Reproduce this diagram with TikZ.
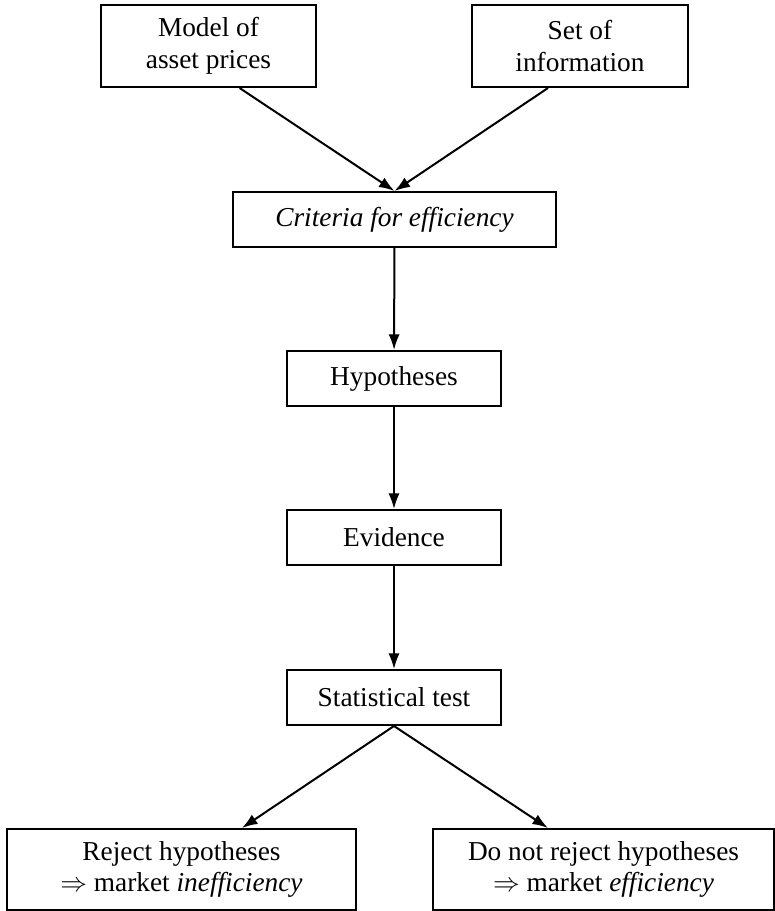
\documentclass[tikz,border=0pt]{standalone}
\usepackage{fontspec}
\setmainfont{Liberation Serif}
\usetikzlibrary{arrows.meta}
\tikzset{
	box/.style={draw, line width=0.9pt, align=center, inner sep=2pt,
			minimum width=#1, minimum height=24.75pt,
			font=\fontsize{12.3pt}{14.2pt}\selectfont},
	tall/.style={minimum height=#1},
	flow/.style={line width=0.9pt, -{Latex[length=7pt,width=5pt]}}
}

\begin{document}
\begin{tikzpicture}[x=0.45pt,y=-0.45pt]
	\useasboundingbox (0,0) rectangle (775,911);
	\node [box=96.75pt, tall=36.9pt] (model) at (208.5,46) {Model of\\asset prices};
	\node [box=97.2pt, tall=36.9pt] (info) at (580,46) {Set of\\information};
	\node [box=145.35pt] (crit) at (394.5,219.5) {\itshape Criteria for efficiency};
	\node [box=96.3pt] (hyp) at (394,378.5) {Hypotheses};
	\node [box=96.3pt] (evid) at (394,537.5) {Evidence};
	\node [box=96.3pt] (stat) at (394,697.5) {Statistical test};
	\node [box=157pt, tall=36.45pt] (reject) at (181.5,869.5)
	{Reject hypotheses\\$\Rightarrow$ market \textit{inefficiency}};
	\node [box=153.5pt, tall=36.45pt] (accept) at (603.5,869.5)
	{Do not reject hypotheses\\$\Rightarrow$ market \textit{efficiency}};
	\draw [flow] ([xshift=14pt]model.south) -- (crit.north);
	\draw [flow] ([xshift=-14.4pt]info.south) -- (crit.north);
	\draw [flow] (crit) -- (hyp);
	\draw [flow] (hyp) -- (evid);
	\draw [flow] (evid) -- (stat);
	\draw [flow] (stat.south) -- ([xshift=27.2pt]reject.north);
	\draw [flow] (stat.south) -- ([xshift=-25pt]accept.north);
\end{tikzpicture}
\end{document}
